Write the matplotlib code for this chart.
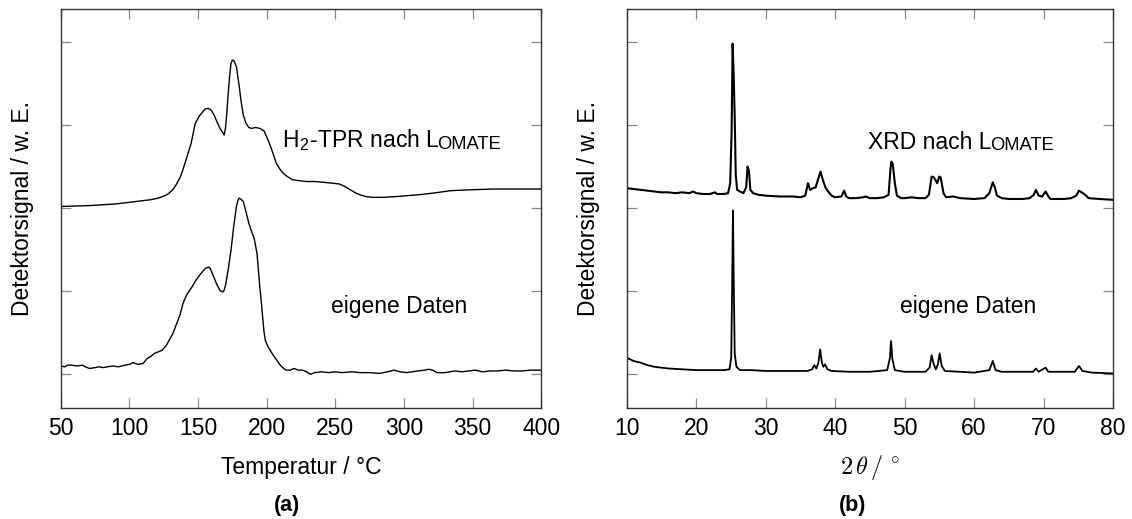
import matplotlib
matplotlib.use("Agg")
import matplotlib.pyplot as plt
import numpy as np

plt.rcParams.update({
    "font.family": ["Liberation Sans", "DejaVu Sans"],
    "mathtext.fontset": "cm",
})

# H2-TPR, Lomate (temperature in degC, signal in a.u.)
tpr_lit_T = [50, 70, 90, 105, 115, 121, 126, 129, 132, 134, 137, 139, 142, 145, 148, 151, 153, 155,
             157, 159, 160, 162, 164, 166, 168, 169, 170, 171, 172, 173, 174, 175, 176, 177, 178, 179,
             180, 181, 182, 183, 185, 187, 189, 192, 195, 198, 200, 202, 205, 207, 210, 212, 215, 219,
             224, 229, 236, 242, 248, 253, 257, 261, 265, 268, 272, 277, 285, 295, 310, 321, 334, 347,
             366, 385, 400]
tpr_lit_y = [2.02, 2.03, 2.05, 2.08, 2.10, 2.12, 2.15, 2.18, 2.23, 2.28, 2.37, 2.46, 2.62, 2.78, 3.02,
             3.11, 3.15, 3.19, 3.20, 3.19, 3.17, 3.11, 3.03, 2.96, 2.91, 2.88, 2.96, 3.15, 3.38, 3.58,
             3.74, 3.78, 3.78, 3.74, 3.70, 3.58, 3.47, 3.33, 3.22, 3.12, 3.02, 2.97, 2.96, 2.97, 2.96,
             2.93, 2.86, 2.78, 2.64, 2.54, 2.46, 2.42, 2.38, 2.34, 2.33, 2.32, 2.32, 2.31, 2.30, 2.29,
             2.26, 2.22, 2.18, 2.16, 2.14, 2.13, 2.13, 2.14, 2.16, 2.18, 2.21, 2.22, 2.23, 2.23, 2.23]

# H2-TPR, own data
tpr_own_T = [50, 53, 55, 58, 62, 66, 68, 71, 75, 78, 81, 84, 88, 92, 97, 100, 103, 106, 110, 113, 116,
             118, 121, 124, 127, 129, 132, 134, 137, 139, 141, 143, 146, 148, 151, 154, 156, 158, 159,
             160, 162, 164, 166, 168, 169, 170, 172, 174, 176, 178, 179, 180, 181, 183, 185, 187, 189,
             191, 193, 194, 195, 196, 197, 198, 199, 201, 204, 206, 209, 211, 214, 217, 220, 223, 226,
             229, 232, 235, 240, 245, 250, 255, 262, 268, 275, 282, 288, 293, 297, 302, 310, 315, 318,
             321, 324, 330, 337, 342, 347, 352, 357, 363, 368, 374, 380, 386, 392, 400]
tpr_own_y = [0.10, 0.09, 0.11, 0.11, 0.10, 0.11, 0.09, 0.07, 0.08, 0.09, 0.08, 0.09, 0.10, 0.09, 0.11,
             0.12, 0.14, 0.12, 0.13, 0.19, 0.22, 0.25, 0.27, 0.29, 0.35, 0.41, 0.50, 0.59, 0.72, 0.85,
             0.93, 0.99, 1.06, 1.12, 1.19, 1.25, 1.28, 1.29, 1.27, 1.23, 1.15, 1.07, 1.01, 0.99, 1.01,
             1.07, 1.26, 1.49, 1.78, 2.02, 2.09, 2.12, 2.11, 2.08, 1.95, 1.82, 1.72, 1.63, 1.45, 1.25,
             1.05, 0.89, 0.70, 0.52, 0.41, 0.33, 0.25, 0.20, 0.13, 0.09, 0.05, 0.05, 0.07, 0.05, 0.05,
             0.03, 0.00, 0.02, 0.03, 0.02, 0.03, 0.02, 0.03, 0.02, 0.02, 0.01, 0.03, 0.05, 0.03, 0.02,
             0.04, 0.05, 0.06, 0.05, 0.02, 0.02, 0.04, 0.03, 0.04, 0.05, 0.03, 0.04, 0.04, 0.05, 0.04,
             0.04, 0.05, 0.05]

# XRD, Lomate (2 theta in deg)
xrd_lit_x = [10, 11, 12, 13, 14, 15, 16, 17, 18, 19, 19.6, 20, 21, 22, 22.7, 23, 24, 24.6, 24.9, 25.1,
             25.25, 25.4, 25.55, 25.7, 25.9, 26.3, 26.8, 27.2, 27.4, 27.6, 27.8, 28.2, 29, 30, 32, 34,
             35, 35.7, 36.1, 36.4, 36.8, 37.2, 37.6, 37.9, 38.2, 38.6, 39, 39.5, 40, 40.9, 41.3, 41.6,
             42, 43, 44, 44.4, 45, 46, 47, 47.7, 47.95, 48.1, 48.3, 48.6, 48.9, 49.5, 50, 51, 52, 53,
             53.5, 53.9, 54.2, 54.5, 54.7, 55.0, 55.2, 55.6, 56, 57, 58, 60, 61.5, 62.2, 62.7, 63.0,
             63.3, 64, 65, 67, 68, 68.6, 68.9, 69.3, 69.8, 70.3, 70.7, 71, 73, 74, 74.7, 75.1, 75.5,
             76, 76.5, 78, 80]
xrd_lit_y = [2.24, 2.23, 2.22, 2.21, 2.20, 2.19, 2.19, 2.18, 2.19, 2.18, 2.20, 2.18, 2.17, 2.17, 2.19,
             2.17, 2.17, 2.18, 2.30, 2.90, 3.98, 3.60, 3.10, 2.40, 2.22, 2.20, 2.18, 2.25, 2.50, 2.45,
             2.22, 2.18, 2.16, 2.15, 2.14, 2.14, 2.13, 2.15, 2.30, 2.22, 2.24, 2.25, 2.36, 2.44, 2.35,
             2.25, 2.20, 2.15, 2.13, 2.14, 2.21, 2.14, 2.12, 2.12, 2.13, 2.14, 2.12, 2.12, 2.13, 2.16,
             2.45, 2.56, 2.53, 2.30, 2.15, 2.12, 2.12, 2.13, 2.12, 2.12, 2.16, 2.38, 2.37, 2.33, 2.30,
             2.38, 2.37, 2.18, 2.13, 2.14, 2.12, 2.11, 2.12, 2.18, 2.31, 2.25, 2.15, 2.12, 2.11, 2.11,
             2.12, 2.16, 2.22, 2.15, 2.14, 2.20, 2.14, 2.11, 2.11, 2.12, 2.15, 2.21, 2.19, 2.16, 2.12,
             2.11, 2.10]

# XRD, own data
xrd_own_x = [10, 11, 12, 13, 14, 15, 16, 18, 20, 22, 24, 24.8, 25.05, 25.2, 25.3, 25.4, 25.55, 25.8,
             26.3, 28, 30, 33, 36, 36.7, 37.0, 37.3, 37.6, 37.85, 38.1, 38.3, 38.55, 38.9, 39.5, 42,
             45, 47.5, 47.9, 48.05, 48.25, 48.6, 50, 53, 53.6, 53.9, 54.2, 54.5, 54.8, 55.05, 55.35,
             55.8, 58, 60, 62.2, 62.7, 63.1, 64, 68.5, 68.9, 69.3, 70.3, 70.7, 74.5, 75.1, 75.6, 77, 80]
xrd_own_y = [0.20, 0.16, 0.14, 0.11, 0.09, 0.08, 0.07, 0.06, 0.05, 0.05, 0.05, 0.06, 0.20, 1.20, 1.97,
             1.20, 0.25, 0.09, 0.05, 0.05, 0.04, 0.04, 0.04, 0.06, 0.11, 0.07, 0.14, 0.30, 0.14, 0.09,
             0.12, 0.06, 0.04, 0.03, 0.03, 0.05, 0.20, 0.40, 0.18, 0.05, 0.03, 0.03, 0.08, 0.23, 0.12,
             0.06, 0.12, 0.25, 0.10, 0.04, 0.03, 0.02, 0.05, 0.16, 0.05, 0.03, 0.03, 0.07, 0.03, 0.08,
             0.03, 0.03, 0.10, 0.04, 0.02, 0.01]

FS = 16.5


def style_axes(ax, xlim, xticks):
    ax.set_xlim(xlim)
    ax.set_ylim(-0.4, 4.4)
    ax.set_xticks(xticks)
    ax.set_yticks(np.arange(0, 5))
    ax.set_yticklabels([])
    ax.tick_params(direction="in", length=7, width=0.9, color="#888888",
                   top=True, right=True, labelsize=FS, pad=7)
    for s in ax.spines.values():
        s.set_color("#333333")
        s.set_linewidth(1.0)
    ax.set_ylabel("Detektorsignal / w. E.", fontsize=FS, labelpad=12)


def label_smallcaps(ax, x, y, head, tail):
    t = ax.text(x, y, head + "L", fontsize=FS, va="center", ha="left")
    ax.annotate(tail, xy=(1, 0), xycoords=t, xytext=(-1.5, 0), textcoords="offset points",
                fontsize=FS * 0.8, va="bottom", ha="left")


fig = plt.figure(figsize=(11.32, 5.19), dpi=100)
ax1 = fig.add_axes([0.0536, 0.2148, 0.4246, 0.7684])
ax2 = fig.add_axes([0.5536, 0.2148, 0.4296, 0.7684])

ax1.plot(tpr_lit_T, tpr_lit_y, color="black", lw=1.0)
ax1.plot(tpr_own_T, tpr_own_y, color="black", lw=1.0)
style_axes(ax1, (50, 400), np.arange(50, 401, 50))
ax1.set_xlabel("Temperatur / °C", fontsize=FS, labelpad=11)
label_smallcaps(ax1, 211, 2.82, r"H$_{\mathregular{2}}$-TPR nach ", "OMATE")
ax1.text(247, 0.81, "eigene Daten", fontsize=FS, va="center", ha="left")

ax2.plot(xrd_lit_x, xrd_lit_y, color="black", lw=1.5)
ax2.plot(xrd_own_x, xrd_own_y, color="black", lw=1.3)
style_axes(ax2, (10, 80), np.arange(10, 81, 10))
ax2.set_xlabel(r"$2\,\theta\,/\,^\circ$", fontsize=FS + 1, labelpad=9)
label_smallcaps(ax2, 44.8, 2.79, "XRD nach ", "OMATE")
ax2.text(49.4, 0.82, "eigene Daten", fontsize=FS, va="center", ha="left")

fig.text(287 / 1132, 1 - 505 / 519, "(a)", fontsize=FS - 1, fontweight="bold", ha="center", va="center")
fig.text(853 / 1132, 1 - 505 / 519, "(b)", fontsize=FS - 1, fontweight="bold", ha="center", va="center")

fig.savefig("out.png", dpi=100)
